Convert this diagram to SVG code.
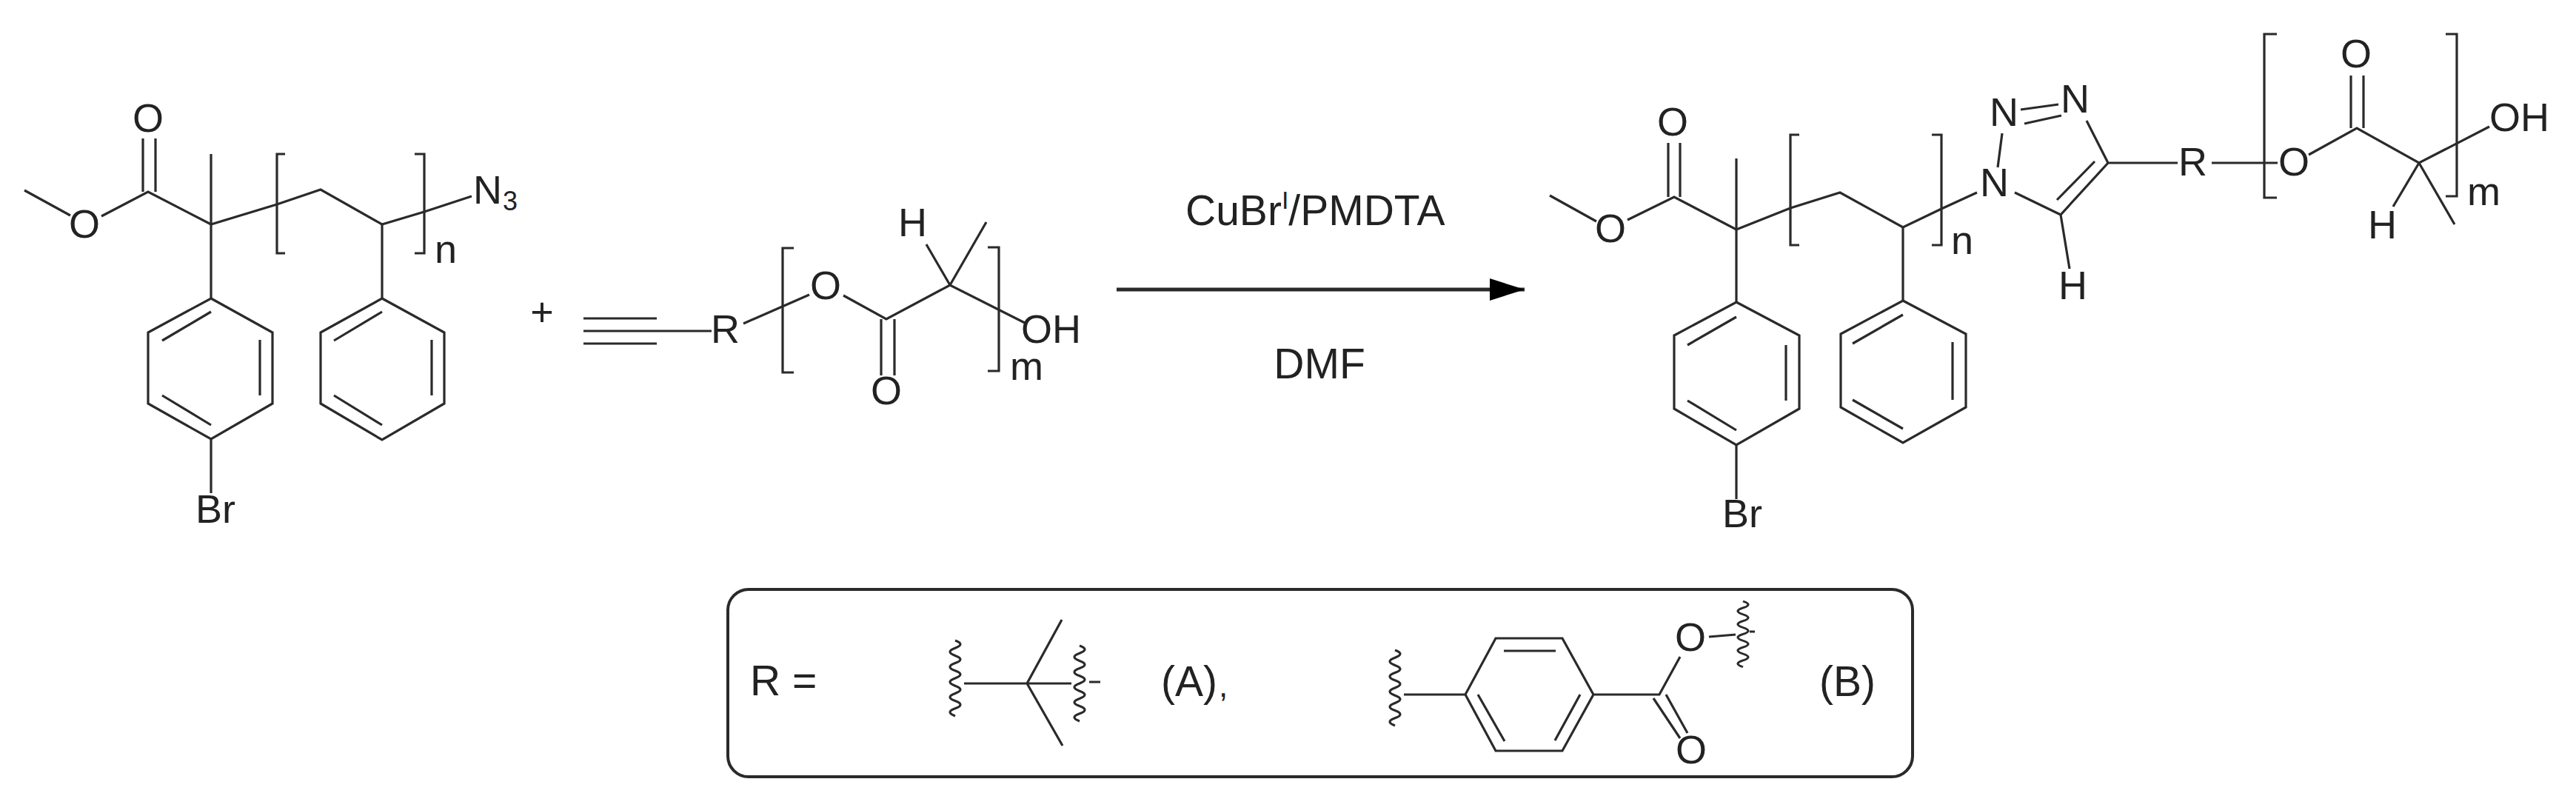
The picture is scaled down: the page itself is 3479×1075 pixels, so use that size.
<svg xmlns="http://www.w3.org/2000/svg" width="3479" height="1075" viewBox="0 0 3479 1075">
<style>
.b{fill:none;stroke:#2a2a2a;stroke-width:3.2;stroke-linecap:butt;stroke-linejoin:miter}
.t{font-family:"Liberation Sans",Arial,sans-serif;font-size:54px;fill:#222}
.r{font-family:"Liberation Sans",Arial,sans-serif;font-size:57px;fill:#222}
.s{font-size:36px}
.m{text-anchor:middle}
</style>
<defs>
<path id="wavy" class="b" d="M0 0q14 5 0 10.2q-14 5 0 10.2q14 5 0 10.2q-14 5 0 10.2q14 5 0 10.2q-14 5 0 10.2q14 5 0 10.2q-14 5 0 10.2q14 5 0 10.2q-14 5 0 10.2"/>
<marker id="head" markerUnits="userSpaceOnUse" markerWidth="48" markerHeight="32" refX="47" refY="16" orient="auto"><path d="M0 1L47 16L0 31z" fill="#000"/></marker>
</defs>
<rect width="3479" height="1075" fill="#fff"/>

<g id="reactant-polymer">
<path class="b" d="M33 257L95 291M137 292L200 259L285 303L374 276L433 256L516 303L573 286L637 265"/>
<path class="b" d="M193 259V187M210 259V187M285 303V208M285 303V403M285 593V666M516 303V403"/>
<path class="b" d="M385 208H374V342H385M560 208H573V342H560"/>
<path class="b" d="M285 403L368 449V545L285 593L200 545V449ZM219 460L285 421M351 459V534M219 534L285 574"/>
<path class="b" d="M516 403L600 449V545L516 594L433 545V449ZM451 460L516 421M583 459V534M451 534L516 574"/>
<text class="t m" x="114" y="321">O</text>
<text class="t m" x="200" y="178">O</text>
<text class="t" x="639" y="275">N</text><text class="t s" x="679" y="284">3</text>
<text class="t" x="587" y="355">n</text>
<text class="t" x="264" y="706">Br</text>
</g>

<g id="plus"><text class="t m" x="732" y="440">+</text></g>

<g id="reactant-alkyne">
<path class="b" d="M788 430H887M788 447H961M788 464H887"/>
<path class="b" d="M1004 437L1093 398M1139 399L1197 431L1283 385L1384 436M1283 385L1332 300M1283 385L1251 330"/>
<path class="b" d="M1190 431V507M1208 431V507"/>
<path class="b" d="M1072 335H1057V503H1072M1334 334H1349V501H1334"/>
<text class="t" x="960" y="463">R</text>
<text class="t m" x="1115" y="404">O</text>
<text class="t m" x="1197" y="546">O</text>
<text class="t" x="1213" y="319">H</text>
<text class="t" x="1379" y="463">OH</text>
<text class="t" x="1364" y="513">m</text>
</g>

<g id="connectors">
<path class="b" style="stroke-width:5" d="M1508 391H2059" marker-end="url(#head)"/>
</g>
<g id="conditions">
<text class="r" x="1601" y="304">CuBr<tspan class="s" style="font-size:34px" dy="-22">I</tspan><tspan dy="22">/PMDTA</tspan></text>
<text class="r m" x="1782" y="511">DMF</text>
</g>

<g id="product-polymer">
<path class="b" d="M2093 264L2156 299M2198 297L2261 266L2345 310L2418 281L2485 260L2570 307L2622 282L2670 260"/>
<path class="b" d="M2253 266V193M2269 266V193M2345 310V214M2345 310V408M2345 601V674M2570 307V406"/>
<path class="b" d="M2430 182H2418V331H2430M2609 182H2622V331H2609"/>
<path class="b" d="M2345 408L2430 453V552L2345 601L2261 552V453ZM2279 466L2345 428M2412 466V541M2279 541L2345 581"/>
<path class="b" d="M2570 406L2655 451V550L2570 598L2486 550V451ZM2502 464L2570 425M2637 462V540M2502 540L2570 579"/>
<text class="t m" x="2175" y="327">O</text>
<text class="t m" x="2259" y="183">O</text>
<text class="t" x="2635" y="343">n</text>
<text class="t" x="2326" y="712">Br</text>
</g>

<g id="product-triazole">
<path class="b" d="M2704 180L2698 226M2729 148L2780 141M2734 167L2784 156M2818 163L2847 220L2783 290L2721 260M2829 218L2778 270M2783 290L2795 363M2847 220H2941"/>
<text class="t" x="2674" y="265">N</text>
<text class="t" x="2687" y="170">N</text>
<text class="t" x="2783" y="152">N</text>
<text class="t" x="2780" y="404">H</text>
</g>

<g id="product-polylactide">
<path class="b" d="M2987 220H3076M3118 209L3183 173L3267 220L3362 171M3267 220L3232 279M3267 220L3315 303"/>
<path class="b" d="M3175 173V102M3192 173V102"/>
<path class="b" d="M3075 46H3058V267H3075M3303 46H3318V265H3303"/>
<text class="t" x="2942" y="237">R</text>
<text class="t m" x="3098" y="237">O</text>
<text class="t m" x="3182" y="91">O</text>
<text class="t" x="3362" y="177">OH</text>
<text class="t" x="3198" y="322">H</text>
<text class="t" x="3332" y="277">m</text>
</g>

<g id="r-legend">
<rect class="b" x="983" y="796" width="1600" height="253" rx="28" ry="28" style="stroke-width:4"/>
<text class="r" x="1013" y="939">R =</text>
</g>

<g id="group-a">
<use href="#wavy" x="1290" y="865"/>
<use href="#wavy" x="1458" y="872"/>
<path class="b" d="M1302 923H1447M1387 923L1434 837M1387 923L1435 1007M1471 921H1486"/>
<text class="r" x="1568" y="940">(A)<tspan style="font-size:44px" dx="2" dy="1">,</tspan></text>
</g>

<g id="group-b">
<use href="#wavy" x="1884" y="878"/>
<use href="#wavy" transform="translate(2354 812) scale(1 .87)"/>
<path class="b" d="M1896 938H1979L2020 862H2110L2152 938L2110 1014H2020L1979 938M2031 879H2101M1996 938L2032 1001M2134 938L2100 1000M2152 938H2241L2269 887M2308 860L2344 857M2363 853H2370M2233 943L2269 997M2250 938L2279 990"/>
<text class="t m" x="2283" y="879">O</text>
<text class="t m" x="2284" y="1031">O</text>
<text class="r" x="2457" y="940">(B)</text>
</g>
</svg>
